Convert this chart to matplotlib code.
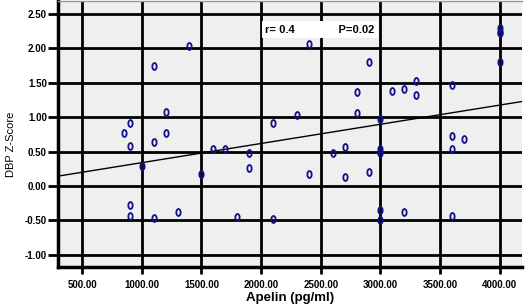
import numpy as np
import matplotlib
matplotlib.use("Agg")
import matplotlib.pyplot as plt
from matplotlib.path import Path
from matplotlib.transforms import Affine2D

# values
apelin = [1400, 1100, 1200, 900, 850, 1200, 1100, 900, 1000, 900,
          900, 1100, 1300, 1500, 1600, 1700, 1900, 1900, 1800, 2100,
          2100, 2300, 2400, 2400, 2600, 2700, 2700, 2900, 2800, 2800,
          2900, 3100, 3200, 3300, 3300, 3600, 3600, 3700, 3600, 3000,
          3000, 3000, 3000, 3000, 3200, 3600, 4000, 4000, 4000, 4000]
dbp_z = [2.03, 1.75, 1.07, 0.91, 0.77, 0.77, 0.64, 0.58, 0.29, -0.28,
         -0.44, -0.47, -0.38, 0.17, 0.54, 0.54, 0.48, 0.26, -0.45, -0.48,
         0.92, 1.03, 2.06, 0.17, 0.48, 0.57, 0.13, 1.80, 1.37, 1.06,
         0.20, 1.38, 1.41, 1.53, 1.33, 1.47, 0.73, 0.69, 0.54, 0.97,
         0.54, 0.48, -0.35, -0.50, -0.38, -0.44, 2.30, 2.24, 2.22, 1.80]

# fitted line as drawn in the reference
fit_intercept = 0.061
fit_slope = 0.000279

x_ticks = [500, 1000, 1500, 2000, 2500, 3000, 3500, 4000]
y_ticks = [-1.0, -0.5, 0.0, 0.5, 1.0, 1.5, 2.0, 2.5]
stats_label = "r= 0.4              P=0.02"

plt.rcParams["font.family"] = ["Liberation Sans", "DejaVu Sans"]

fig = plt.figure(figsize=(5.25, 3.07), dpi=100)
ax = fig.add_axes([0.1105, 0.130, 0.8835, 0.867])
ax.set_facecolor("#efefef")

xlim = (299, 4184)
ax.set_xlim(*xlim)
ax.set_ylim(-1.177, 2.69)

ax.set_xticks(x_ticks)
ax.set_yticks(y_ticks)
ax.set_xticklabels([f"{v:.2f}" for v in x_ticks], fontsize=7, fontweight="bold")
ax.set_yticklabels([f"{v:.2f}" for v in y_ticks], fontsize=7, fontweight="bold")
ax.tick_params(axis="x", length=5, width=2, pad=4)
ax.tick_params(axis="y", length=7, width=2, pad=1)
ax.grid(True, color="black", linewidth=2.0)
ax.set_axisbelow(True)

for side in ("left", "bottom"):
    ax.spines[side].set_linewidth(2.5)
    ax.spines[side].set_color("black")
ax.spines["top"].set_color("#9a9a9a")
ax.spines["top"].set_linewidth(1)
ax.spines["right"].set_visible(False)

# "0"-shaped open markers, as in the SPSS output
oval = Path.unit_circle().transformed(Affine2D().scale(0.62, 1.0))
ax.plot(apelin, dbp_z, linestyle="none", marker=oval, markersize=5,
        markerfacecolor="none", markeredgecolor="#10108a", markeredgewidth=1.3,
        zorder=4)

xs = np.array(xlim, dtype=float)
ax.plot(xs, fit_intercept + fit_slope * xs, color="black", linewidth=1.0, zorder=3)

ax.text(2035, 2.27, stats_label, fontsize=8, fontweight="bold", va="center",
        ha="left", zorder=5,
        bbox=dict(facecolor="white", edgecolor="none", pad=2.5))

ax.set_xlabel("Apelin (pg/ml)", fontsize=9.5, fontweight="bold", labelpad=2)
ax.set_ylabel("DBP Z-Score", fontsize=8)
ax.yaxis.set_label_coords(-0.09, 0.46)

fig.savefig("out.png", dpi=100)
